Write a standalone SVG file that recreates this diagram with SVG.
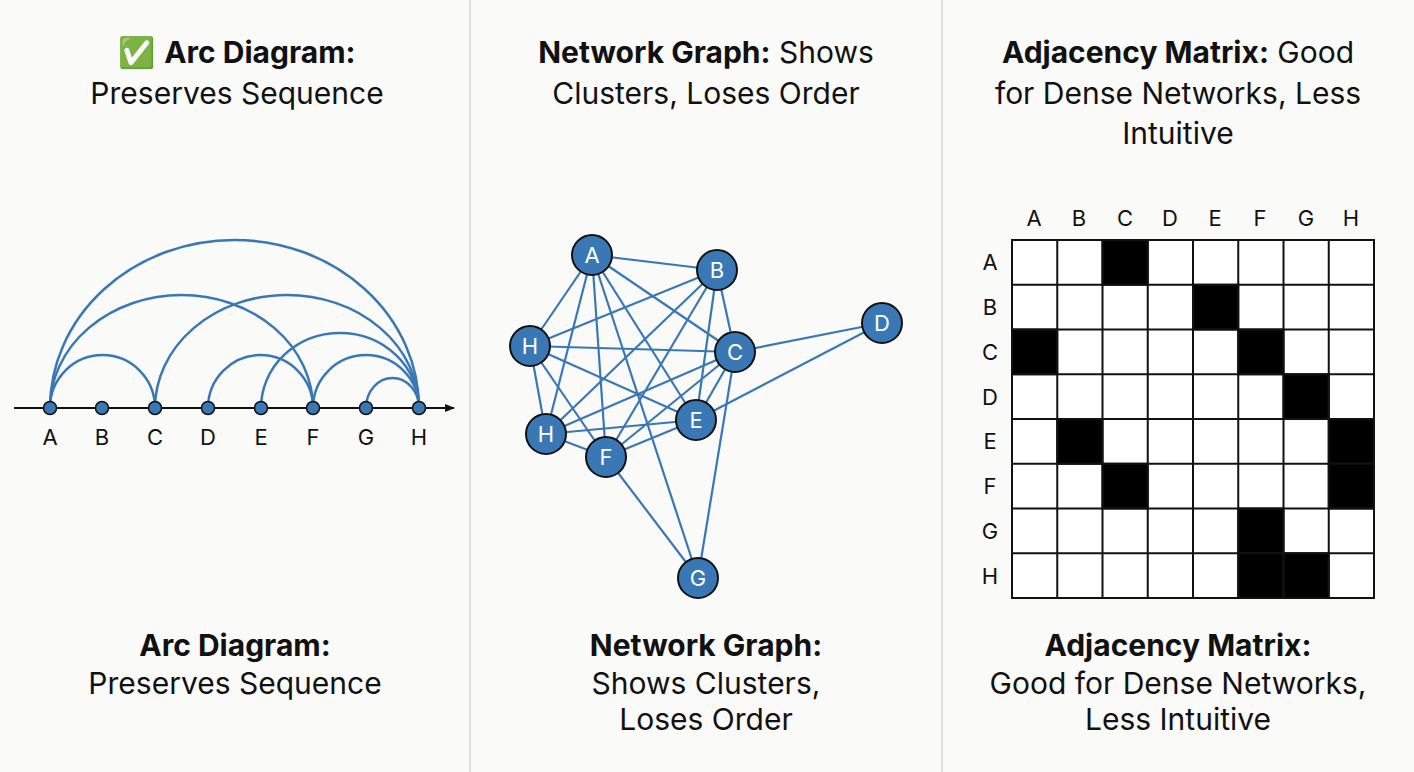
<svg xmlns="http://www.w3.org/2000/svg" width="1414" height="772" viewBox="0 0 1414 772">
<style>
text{font-family:"Inter","Liberation Sans",sans-serif;fill:#111}
.t{font-size:30px;text-anchor:middle}
.b{font-weight:bold}
.arc{fill:none;stroke:#3a78b5;stroke-width:2.5}
.e{stroke:#3a78b5;stroke-width:2.2}
.n{fill:#3a78b5;stroke:#111;stroke-width:2}
.nl{font-size:22px;fill:#fff;text-anchor:middle}
.al{font-size:22px;text-anchor:middle}
.c{fill:#fff;stroke:#111;stroke-width:2}
.k{fill:#000;stroke:#111;stroke-width:2}
</style>
<defs><marker id="ar" markerWidth="10" markerHeight="8" refX="9" refY="4" orient="auto" markerUnits="userSpaceOnUse"><path d="M0,0L10,4L0,8z" fill="#111"/></marker></defs>
<rect width="1414" height="772" fill="#fafaf9"/>
<line x1="470" y1="0" x2="470" y2="772" stroke="#d6d6d6" stroke-width="1.5"/>
<line x1="942" y1="0" x2="942" y2="772" stroke="#d6d6d6" stroke-width="1.5"/>
<g id="titles">
<text class="t" x="237" y="63"><tspan font-family="Noto Color Emoji,sans-serif" fill="#2ba84a">✅</tspan> <tspan class="b">Arc Diagram:</tspan></text>
<text class="t" x="237" y="104">Preserves Sequence</text>
<text class="t" x="706" y="63"><tspan class="b">Network Graph:</tspan> Shows</text>
<text class="t" x="706" y="104">Clusters, Loses Order</text>
<text class="t" x="1178" y="63"><tspan class="b">Adjacency Matrix:</tspan> Good</text>
<text class="t" x="1178" y="104">for Dense Networks, Less</text>
<text class="t" x="1178" y="144">Intuitive</text>
<text class="t b" x="235" y="656" font-size="28">Arc Diagram:</text>
<text class="t" x="235" y="694" font-size="28">Preserves Sequence</text>
<text class="t b" x="706" y="656" font-size="28">Network Graph:</text>
<text class="t" x="706" y="694" font-size="28">Shows Clusters,</text>
<text class="t" x="706" y="730" font-size="28">Loses Order</text>
<text class="t b" x="1178" y="656" font-size="28">Adjacency Matrix:</text>
<text class="t" x="1178" y="694" font-size="28">Good for Dense Networks,</text>
<text class="t" x="1178" y="730" font-size="28">Less Intuitive</text>
</g>
<g id="arc-diagram">
<line x1="14" y1="408" x2="454" y2="408" stroke="#111" stroke-width="2" marker-end="url(#ar)"/>
<path class="arc" d="M50,408A184.5,168 0 0 1 419,408"/>
<path class="arc" d="M50,408A131.5,113 0 0 1 313,408"/>
<path class="arc" d="M155,408A132,113 0 0 1 419,408"/>
<path class="arc" d="M50,408A52.5,53 0 0 1 155,408"/>
<path class="arc" d="M208,408A52.5,53 0 0 1 313,408"/>
<path class="arc" d="M261,408A79,75 0 0 1 419,408"/>
<path class="arc" d="M313,408A53,53 0 0 1 419,408"/>
<path class="arc" d="M366,408A26.5,30 0 0 1 419,408"/>
<g fill="#3a78b5" stroke="#111" stroke-width="1.5">
<circle cx="50" cy="408" r="6.5"/><circle cx="102" cy="408" r="6.5"/><circle cx="155" cy="408" r="6.5"/><circle cx="208" cy="408" r="6.5"/><circle cx="261" cy="408" r="6.5"/><circle cx="313" cy="408" r="6.5"/><circle cx="366" cy="408" r="6.5"/><circle cx="419" cy="408" r="6.5"/>
</g>
<text class="al" x="50" y="445">A</text><text class="al" x="102" y="445">B</text><text class="al" x="155" y="445">C</text><text class="al" x="208" y="445">D</text><text class="al" x="261" y="445">E</text><text class="al" x="313" y="445">F</text><text class="al" x="366" y="445">G</text><text class="al" x="419" y="445">H</text>
</g>
<g id="connectors">
<line class="e" x1="592" y1="255" x2="717" y2="270"/>
<line class="e" x1="592" y1="255" x2="530" y2="346"/>
<line class="e" x1="592" y1="255" x2="546" y2="434"/>
<line class="e" x1="592" y1="255" x2="606" y2="457"/>
<line class="e" x1="592" y1="255" x2="696" y2="420"/>
<line class="e" x1="592" y1="255" x2="735" y2="352"/>
<line class="e" x1="592" y1="255" x2="698" y2="578"/>
<line class="e" x1="717" y1="270" x2="530" y2="346"/>
<line class="e" x1="717" y1="270" x2="546" y2="434"/>
<line class="e" x1="717" y1="270" x2="606" y2="457"/>
<line class="e" x1="717" y1="270" x2="696" y2="420"/>
<line class="e" x1="717" y1="270" x2="735" y2="352"/>
<line class="e" x1="530" y1="346" x2="735" y2="352"/>
<line class="e" x1="530" y1="346" x2="696" y2="420"/>
<line class="e" x1="530" y1="346" x2="546" y2="434"/>
<line class="e" x1="530" y1="346" x2="606" y2="457"/>
<line class="e" x1="735" y1="352" x2="882" y2="323"/>
<line class="e" x1="735" y1="352" x2="546" y2="434"/>
<line class="e" x1="735" y1="352" x2="606" y2="457"/>
<line class="e" x1="735" y1="352" x2="696" y2="420"/>
<line class="e" x1="735" y1="352" x2="698" y2="578"/>
<line class="e" x1="882" y1="323" x2="696" y2="420"/>
<line class="e" x1="546" y1="434" x2="696" y2="420"/>
<line class="e" x1="546" y1="434" x2="606" y2="457"/>
<line class="e" x1="606" y1="457" x2="696" y2="420"/>
<line class="e" x1="606" y1="457" x2="698" y2="578"/>
</g>
<g id="node-A"><circle class="n" cx="592" cy="255" r="20"/><text class="nl" x="592" y="263">A</text></g>
<g id="node-B"><circle class="n" cx="717" cy="270" r="20"/><text class="nl" x="717" y="278">B</text></g>
<g id="node-H1"><circle class="n" cx="530" cy="346" r="20"/><text class="nl" x="530" y="354">H</text></g>
<g id="node-C"><circle class="n" cx="735" cy="352" r="20"/><text class="nl" x="735" y="360">C</text></g>
<g id="node-D"><circle class="n" cx="882" cy="323" r="20"/><text class="nl" x="882" y="331">D</text></g>
<g id="node-E"><circle class="n" cx="696" cy="420" r="20"/><text class="nl" x="696" y="428">E</text></g>
<g id="node-H2"><circle class="n" cx="546" cy="434" r="20"/><text class="nl" x="546" y="442">H</text></g>
<g id="node-F"><circle class="n" cx="606" cy="457" r="20"/><text class="nl" x="606" y="465">F</text></g>
<g id="node-G"><circle class="n" cx="698" cy="578" r="20"/><text class="nl" x="698" y="586">G</text></g>
<g id="matrix">
<g class="al">
<text class="al" x="1034" y="226">A</text><text class="al" x="1079" y="226">B</text><text class="al" x="1125" y="226">C</text><text class="al" x="1170" y="226">D</text><text class="al" x="1215" y="226">E</text><text class="al" x="1260" y="226">F</text><text class="al" x="1306" y="226">G</text><text class="al" x="1351" y="226">H</text>
<text class="al" x="990" y="270">A</text><text class="al" x="990" y="315">B</text><text class="al" x="990" y="360">C</text><text class="al" x="990" y="405">D</text><text class="al" x="990" y="449">E</text><text class="al" x="990" y="494">F</text><text class="al" x="990" y="539">G</text><text class="al" x="990" y="584">H</text>
</g>
<rect x="1012" y="240" width="362" height="358" fill="#fff" stroke="#111" stroke-width="2"/>
<rect class="k" x="1102.5" y="240" width="45.25" height="44.75"/>
<rect class="k" x="1193" y="284.75" width="45.25" height="44.75"/>
<rect class="k" x="1012" y="329.5" width="45.25" height="44.75"/>
<rect class="k" x="1238.25" y="329.5" width="45.25" height="44.75"/>
<rect class="k" x="1283.5" y="374.25" width="45.25" height="44.75"/>
<rect class="k" x="1057.25" y="419" width="45.25" height="44.75"/>
<rect class="k" x="1328.75" y="419" width="45.25" height="44.75"/>
<rect class="k" x="1102.5" y="463.75" width="45.25" height="44.75"/>
<rect class="k" x="1328.75" y="463.75" width="45.25" height="44.75"/>
<rect class="k" x="1238.25" y="508.5" width="45.25" height="44.75"/>
<rect class="k" x="1238.25" y="553.25" width="45.25" height="44.75"/>
<rect class="k" x="1283.5" y="553.25" width="45.25" height="44.75"/>
<g stroke="#111" stroke-width="2">
<line x1="1057.25" y1="240" x2="1057.25" y2="598"/><line x1="1102.5" y1="240" x2="1102.5" y2="598"/><line x1="1147.75" y1="240" x2="1147.75" y2="598"/><line x1="1193" y1="240" x2="1193" y2="598"/><line x1="1238.25" y1="240" x2="1238.25" y2="598"/><line x1="1283.5" y1="240" x2="1283.5" y2="598"/><line x1="1328.75" y1="240" x2="1328.75" y2="598"/>
<line x1="1012" y1="284.75" x2="1374" y2="284.75"/><line x1="1012" y1="329.5" x2="1374" y2="329.5"/><line x1="1012" y1="374.25" x2="1374" y2="374.25"/><line x1="1012" y1="419" x2="1374" y2="419"/><line x1="1012" y1="463.75" x2="1374" y2="463.75"/><line x1="1012" y1="508.5" x2="1374" y2="508.5"/><line x1="1012" y1="553.25" x2="1374" y2="553.25"/>
</g>
</g>
</svg>
